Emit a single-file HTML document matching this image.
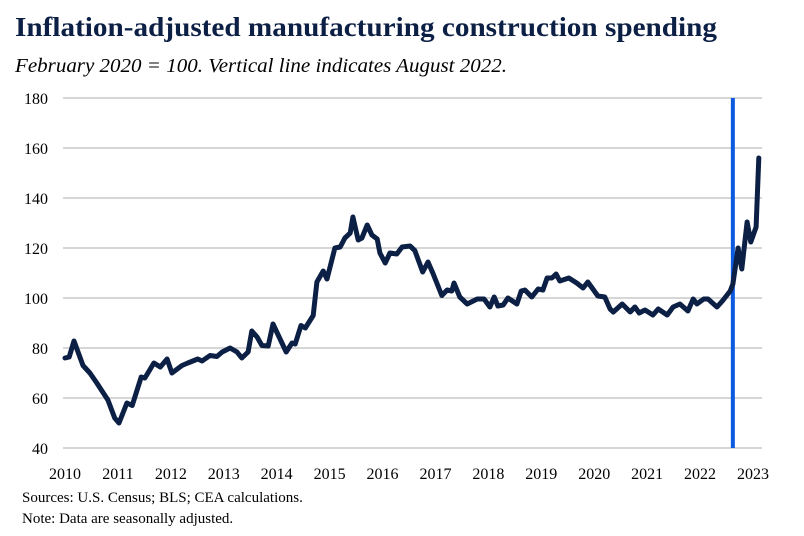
<!DOCTYPE html>
<html><head><meta charset="utf-8"><style>
body{margin:0;background:#fff;}
svg{display:block;font-family:"Liberation Serif",serif;}
</style></head><body>
<svg width="804" height="536">
<text x="15" y="36" font-size="27" font-weight="bold" fill="#0c1f45" textLength="702" lengthAdjust="spacingAndGlyphs">Inflation-adjusted manufacturing construction spending</text>
<text x="15" y="72" font-size="20" font-style="italic" fill="#000" textLength="492" lengthAdjust="spacingAndGlyphs">February 2020 = 100. Vertical line indicates August 2022.</text>
<g id="grid"></g>
<g id="yticks"></g>
<g id="xticks"></g>
<g id="marks"></g>
<text x="22" y="502" font-size="15">Sources: U.S. Census; BLS; CEA calculations.</text>
<text x="22" y="523" font-size="15">Note: Data are seasonally adjusted.</text>
</svg>
<script>
const yTicks=[40,60,80,100,120,140,160,180];
const xTicks=[2010,2011,2012,2013,2014,2015,2016,2017,2018,2019,2020,2021,2022,2023];
const markerDate=2022.62;
const dates=[2010.0,2010.08,2010.17,2010.34,2010.47,2010.6,2010.81,2010.94,2011.02,2011.17,2011.27,2011.44,2011.51,2011.68,2011.8,2011.93,2012.02,2012.21,2012.32,2012.51,2012.59,2012.74,2012.87,2012.97,2013.12,2013.25,2013.34,2013.46,2013.53,2013.63,2013.72,2013.84,2013.93,2014.02,2014.18,2014.29,2014.35,2014.46,2014.54,2014.69,2014.76,2014.88,2014.95,2015.1,2015.2,2015.29,2015.39,2015.44,2015.54,2015.61,2015.71,2015.8,2015.9,2015.95,2016.05,2016.14,2016.27,2016.37,2016.52,2016.61,2016.76,2016.86,2016.95,2017.12,2017.22,2017.31,2017.35,2017.46,2017.6,2017.79,2017.92,2018.03,2018.11,2018.18,2018.28,2018.37,2018.54,2018.62,2018.69,2018.82,2018.94,2019.03,2019.11,2019.2,2019.28,2019.35,2019.52,2019.67,2019.79,2019.88,2020.07,2020.2,2020.3,2020.36,2020.53,2020.68,2020.77,2020.85,2020.96,2021.11,2021.21,2021.38,2021.49,2021.62,2021.77,2021.87,2021.94,2022.07,2022.15,2022.32,2022.43,2022.57,2022.62,2022.72,2022.79,2022.89,2022.96,2023.06,2023.11];
const values=[76,76.4,82.8,73,70,66,59.2,52,50,58,57,68.4,68,74,72.4,75.6,70,73,74,75.6,74.8,77,76.6,78.4,80,78.4,76,78.4,86.8,84.4,81,80.8,89.6,85.6,78.4,82,81.6,89,88,93,106.4,110.8,107.6,120,120.4,124,126,132.4,123.2,124,129.2,125.2,123.6,118,114,118,117.6,120.4,120.8,119,110.4,114.4,110,101,103.2,102.8,106,100.4,97.6,99.6,99.6,96.4,100.4,96.8,97.2,100,97.6,102.8,103.2,100.4,103.6,103.2,108,108,109.6,106.8,108,106,104,106.4,100.8,100.4,95.6,94.4,97.6,94.4,96.4,94,95.2,93.2,95.6,93.2,96.4,97.6,94.8,99.6,97.6,99.6,99.6,96.4,99,102.8,105.6,120,111.6,130.4,122.4,128.4,156];
const NS='http://www.w3.org/2000/svg';
const X=d=>65+(d-2010)*52.92;
const Y=v=>448-(v-40)*2.5;
function mk(tag,attrs,parent){const e=document.createElementNS(NS,tag);for(const k in attrs)e.setAttribute(k,attrs[k]);document.getElementById(parent).appendChild(e);return e;}
yTicks.forEach(v=>{
  const g=mk('line',{x1:63,x2:762,y1:Y(v),y2:Y(v),stroke:'#c8c8c8','stroke-width':1.5},'grid');
  
  
  const t=mk('text',{x:48,y:Y(v)+6,'text-anchor':'end','font-size':16},'yticks');
  t.textContent=v;
  
  
});
xTicks.forEach(d=>{
  const t=mk('text',{x:X(d),y:479,'text-anchor':'middle','font-size':16},'xticks');
  t.textContent=d;
  
  
});
const vl=mk('line',{x1:X(markerDate),x2:X(markerDate),y1:Y(180),y2:Y(40),stroke:'#0b5ae0','stroke-width':4},'marks');


const p=mk('polyline',{points:dates.map((d,i)=>X(d).toFixed(1)+','+Y(values[i]).toFixed(1)).join(' '),fill:'none',stroke:'#0c1f45','stroke-width':5,'stroke-linejoin':'round','stroke-linecap':'round'},'marks');


</script>
</body></html>
